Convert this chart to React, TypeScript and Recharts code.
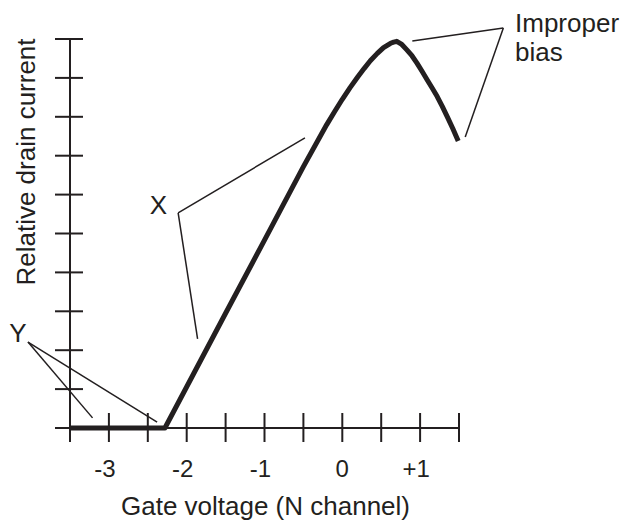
import { LineChart, Line, XAxis, YAxis, ReferenceLine, ReferenceDot } from "recharts";

const INK = "#231f20";
const FONT = "'Liberation Sans', Arial, Helvetica, sans-serif";

// transfer curve
const gateVoltage = [
  -3.5, -2.28, -1.5, -1.0, -0.5, -0.2, -0.1, 0.0, 0.1, 0.2, 0.28, 0.36, 0.45, 0.53, 0.62, 0.66, 0.7,
  0.765, 0.83, 0.895, 0.96, 1.025, 1.09, 1.155, 1.22, 1.285, 1.35, 1.42, 1.49,
];
const drainCurrent = [
  0, 0, 2.95, 4.83, 6.72, 7.8, 8.13, 8.45, 8.75, 9.03, 9.24, 9.44, 9.63, 9.78, 9.89, 9.92, 9.94,
  9.86, 9.72, 9.57, 9.38, 9.17, 8.95, 8.74, 8.52, 8.27, 8.0, 7.7, 7.38,
];

const xTicks = [-3.5, -3, -2.5, -2, -1.5, -1, -0.5, 0, 0.5, 1, 1.5];
const xTickLabels: Record<string, string> = { "-3": "-3", "-2": "-2", "-1": "-1", "0": "0", "1": "+1" };
const yTicks = [0, 1, 2, 3, 4, 5, 6, 7, 8, 9, 10];

// callout lines, in data units
const calloutLines = [
  [[0.9, 9.95], [2.07, 10.28]],
  [[2.07, 10.28], [1.58, 7.48]],
  [[-2.11, 5.53], [-0.48, 7.46]],
  [[-2.11, 5.53], [-1.86, 2.29]],
  [[-4.04, 2.21], [-3.21, 0.26]],
  [[-4.04, 2.21], [-2.38, 0.15]],
];
const calloutTexts = ["Improper", "bias", "X", "Y"];
const calloutX = [2.22, 2.22, -2.365, -4.17];
const calloutY = [10.18, 9.43, 5.5, 2.21];

const data = gateVoltage.map((v, i) => ({ v, i: drainCurrent[i] }));

function XTick(props: any) {
  const { x, y, payload } = props;
  const label = xTickLabels[String(payload.value)];
  return (
    <g>
      <line x1={x} x2={x} y1={y - 15} y2={y + 14} stroke={INK} strokeWidth={2} />
      {label && (
        <text x={x + (label === "0" ? 0 : -4)} y={y + 49} textAnchor="middle" fontSize={24} fill={INK} fontFamily={FONT}>
          {label}
        </text>
      )}
    </g>
  );
}

function YTick(props: any) {
  const { x, y } = props;
  return <line x1={x - 15} x2={x + 13} y1={y} y2={y} stroke={INK} strokeWidth={2} />;
}

export default function App() {
  return (
    <div style={{ position: "absolute", left: 0, top: 0, background: "#fff" }}>
      <LineChart width={621} height={523} data={data} margin={{ top: 39, right: 162, bottom: 94, left: 69 }}>
        <XAxis
          dataKey="v"
          type="number"
          domain={[-3.5, 1.5]}
          ticks={xTicks}
          interval={0}
          height={1}
          tickSize={0}
          tickMargin={0}
          tickLine={false}
          tick={XTick}
          axisLine={{ stroke: INK, strokeWidth: 2 }}
          label={(p: any) => {
            const vb = p.viewBox;
            return (
              <text x={vb.x + vb.width / 2 + 1} y={vb.y + 87} textAnchor="middle" fontSize={26} fill={INK} fontFamily={FONT}>
                Gate voltage (N channel)
              </text>
            );
          }}
        />
        <YAxis
          type="number"
          domain={[0, 10]}
          ticks={yTicks}
          interval={0}
          width={1}
          tickSize={0}
          tickMargin={0}
          tickLine={false}
          tick={YTick}
          axisLine={{ stroke: INK, strokeWidth: 2 }}
          label={(p: any) => {
            const vb = p.viewBox;
            const cx = vb.x + vb.width - 35;
            const cy = vb.y + 123;
            return (
              <text x={cx} y={cy} transform={`rotate(-90, ${cx}, ${cy})`} textAnchor="middle" fontSize={26} fill={INK} fontFamily={FONT}>
                Relative drain current
              </text>
            );
          }}
        />
        {calloutLines.map((seg, k) => (
          <ReferenceLine
            key={k}
            segment={[{ x: seg[0][0], y: seg[0][1] }, { x: seg[1][0], y: seg[1][1] }]}
            stroke={INK}
            strokeWidth={1.5}
            ifOverflow="visible"
          />
        ))}
        {calloutTexts.map((t, k) => (
          <ReferenceDot
            key={t}
            x={calloutX[k]}
            y={calloutY[k]}
            ifOverflow="visible"
            shape={(p: any) => (
              <text x={p.cx} y={p.cy} textAnchor={k < 2 ? "start" : "middle"} fontSize={26} fill={INK} fontFamily={FONT}>
                {t}
              </text>
            )}
          />
        ))}
        <Line
          type="linear"
          dataKey="i"
          stroke={INK}
          strokeWidth={5}
          strokeLinejoin="round"
          dot={false}
          activeDot={false}
          isAnimationActive={false}
        />
      </LineChart>
    </div>
  );
}
